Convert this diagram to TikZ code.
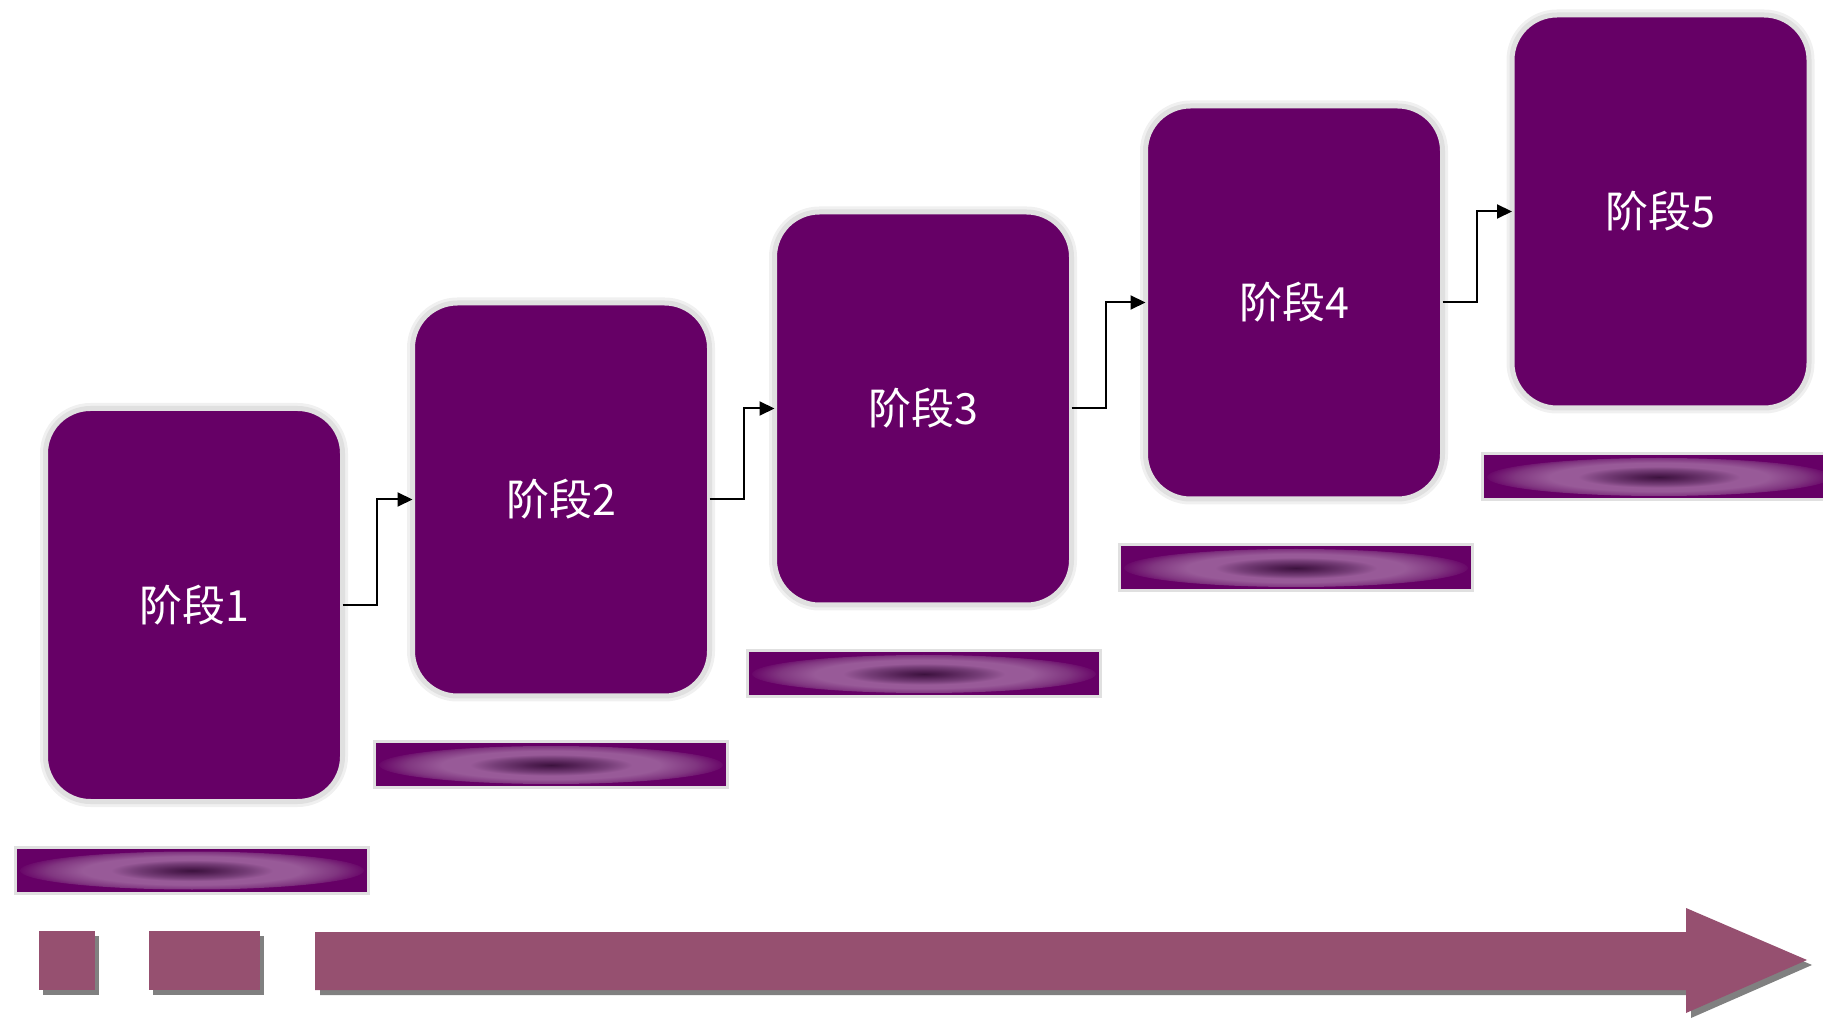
\documentclass[tikz,border=0pt]{standalone}
\usepackage{fontspec}
\newfontfamily\cjk{Noto Sans CJK SC}
\usetikzlibrary{positioning,arrows.meta,shadows}
\definecolor{stagepurple}{RGB}{102,0,102}
\definecolor{rimgray}{RGB}{224,224,224}
\definecolor{trackmauve}{RGB}{150,80,112}
\definecolor{glowcore}{RGB}{60,18,62}
\definecolor{glowdark}{RGB}{84,34,86}
\definecolor{glowmid}{RGB}{118,62,120}
\definecolor{glowring}{RGB}{152,90,152}
\definecolor{glowedge}{RGB}{128,54,128}
\pgfdeclareradialshading{barglow}{\pgfpoint{0bp}{0bp}}{color(0bp)=(glowcore); color(3.5bp)=(glowdark); color(8bp)=(glowmid); color(11.5bp)=(glowring); color(15.5bp)=(glowring); color(20.5bp)=(glowedge); color(25bp)=(stagepurple); color(50bp)=(stagepurple)}
\begin{document}
\begin{tikzpicture}[x=1pt, y=1pt, node distance=69.5pt,
  stage/.style={draw=rimgray, line width=5pt, fill=stagepurple, rounded corners=45pt, minimum width=297pt, minimum height=393pt, outer sep=0pt, text=white, font=\cjk\fontsize{43}{50}\selectfont, preaction={draw=black!6, line width=11pt}},
  glowbar/.style={draw=rimgray, line width=3pt, fill=stagepurple, minimum width=353pt, minimum height=46pt, inner sep=0pt, outer sep=0pt, path picture={\shade[shading=barglow] (path picture bounding box.center) ellipse (172pt and 19pt);}},
  flow/.style={-{Triangle[length=15pt,width=14pt]}, line width=2pt},
  block/.style={fill=trackmauve, drop shadow={shadow xshift=4pt, shadow yshift=-5pt, fill=black!50, opacity=1}, minimum height=59pt, inner sep=0pt, outer sep=0pt}]
\useasboundingbox (0,0) rectangle (1823,1018);
\node[stage] (1) at (194,413) {阶段1};
\node[stage] (2) [right=70pt of 1, yshift=105.5pt] {阶段2};
\node[stage] (3) [right=65pt of 2, yshift=91pt] {阶段3};
\node[stage] (4) [right=74pt of 3, yshift=106pt] {阶段4};
\node[stage] (5) [right=of 4, yshift=91pt] {阶段5};
\node[glowbar] (b1) [below=46pt of 1, xshift=-2pt] {};
\node[glowbar] (b2) [below=46pt of 2, xshift=-10pt] {};
\node[glowbar] (b3) [below=46pt of 3, xshift=1pt] {};
\node[glowbar] (b4) [below=46pt of 4, xshift=2pt] {};
\node[glowbar] (b5) [below=46pt of 5, xshift=-1.5pt] {};
\draw[flow] (1.east) -- ++(34,0) |- (2.west);
\draw[flow] (2.east) -- ++(34,0) |- (3.west);
\draw[flow] (3.east) -- ++(34,0) |- (4.west);
\draw[flow] (4.east) -- ++(34,0) |- (5.west);
\node[block, minimum width=56pt] (q1) at (67,57.5) {};
\node[block, minimum width=111pt] (q2) at (204.5,57.5) {};
\fill[trackmauve, drop shadow={shadow xshift=5pt, shadow yshift=-5pt, fill=black!50, opacity=1}] (315,28) -- (1686,28) -- (1686,5) -- (1807,58) -- (1686,110) -- (1686,86) -- (315,86) -- cycle;
\end{tikzpicture}
\end{document}
